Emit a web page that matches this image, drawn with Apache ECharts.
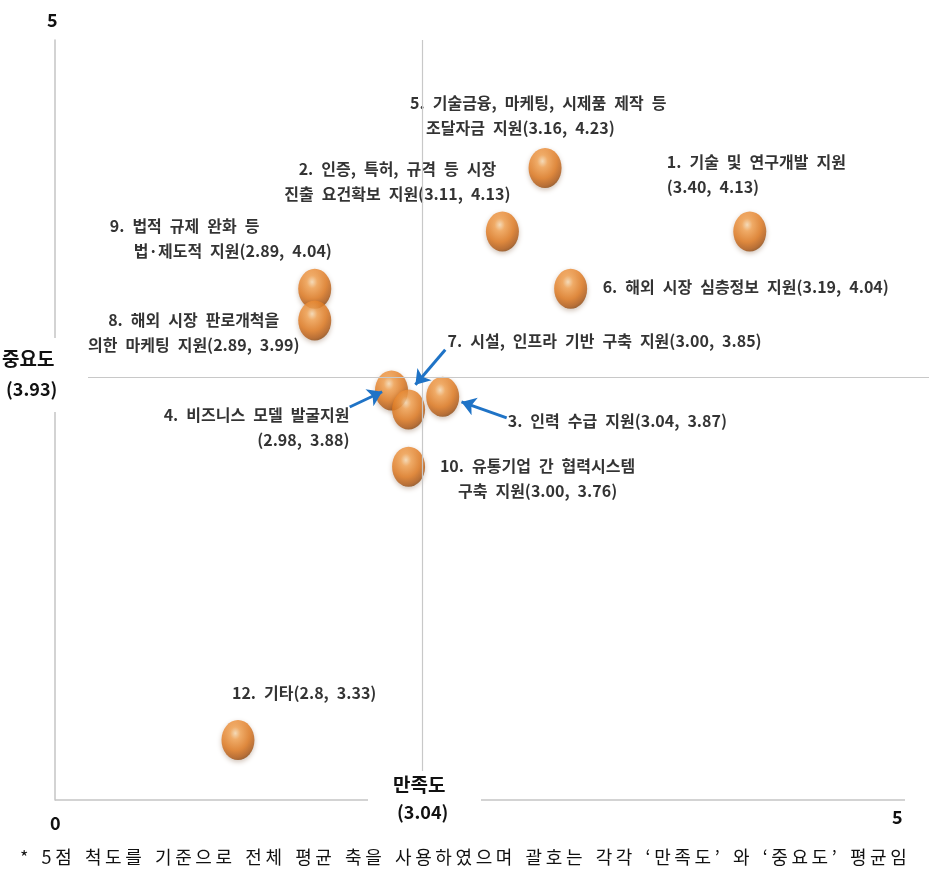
<!DOCTYPE html>
<html>
<head>
<meta charset="utf-8">
<script src="https://cdn.jsdelivr.net/npm/echarts@6/dist/echarts.min.js"></script>
<style>
html,body{margin:0;padding:0;background:#fff;}
#chart{width:929px;height:884px;}
</style>
</head>
<body>
<div id="chart"></div>
<script>
// ---- data ----
// order chosen so overlapping balls stack as in the reference
const itemIds      = ['1', '2', '3', '4', '5', '6', '7', '9', '8', '10', '12'];
const satisfaction = [3.40, 3.11, 3.04, 2.98, 3.16, 3.19, 3.00, 2.89, 2.89, 3.00, 2.80];
const importance   = [4.13, 4.13, 3.87, 3.88, 4.23, 4.04, 3.85, 4.04, 3.99, 3.76, 3.33];
const itemLabels = [
  '1. 기술 및 연구개발 지원\n(3.40, 4.13)',
  '2. 인증, 특허, 규격 등 시장\n진출 요건확보 지원(3.11, 4.13)',
  '3. 인력 수급 지원(3.04, 3.87)',
  '4. 비즈니스 모델 발굴지원\n(2.98, 3.88)',
  '5. 기술금융, 마케팅, 시제품 제작 등\n  조달자금 지원(3.16, 4.23)',
  '6. 해외 시장 심층정보 지원(3.19, 4.04)',
  '7. 시설, 인프라 기반 구축 지원(3.00, 3.85)',
  '9. 법적 규제 완화 등\n   법·제도적 지원(2.89, 4.04)',
  '8. 해외 시장 판로개척을\n의한 마케팅 지원(2.89, 3.99)',
  '10. 유통기업 간 협력시스템\n구축 지원(3.00, 3.76)',
  '12. 기타(2.8, 3.33)'
];
// mean axes as drawn in the picture, and their printed values
const meanLineX = 3.016;
const meanLineY = 3.901;
const meanTextX = '(3.04)';
const meanTextY = '(3.93)';
const axisEndLabels = ['0', '5'];
// arrows [from, to] in data units
const arrowFrom = [[3.043, 3.944], [2.931, 3.854], [3.115, 3.837]];
const arrowTo   = [[3.008, 3.889], [2.969, 3.878], [3.062, 3.862]];
const footnote = '* 5점 척도를 기준으로 전체 평균 축을 사용하였으며 괄호는 각각 ‘만족도’ 와 ‘중요도’ 평균임';

// ---- styles / label placement ----
const labelPlace = [
  {offset: [-83, -57], align: 'left'},
  {offset: [-105, -50], align: 'center'},
  {offset: [65, 24], align: 'left'},
  {offset: [-42, 37], align: 'right'},
  {offset: [-135, -53], align: 'left'},
  {offset: [32, -2], align: 'left'},
  {offset: [39, -69], align: 'left'},
  {offset: [-205, -50], align: 'left'},
  {offset: [-121, 12], align: 'center'},
  {offset: [129, 12], align: 'center'},
  {offset: [-6, -47], align: 'left'}
];

const FONT = '"Noto Sans CJK KR", "Noto Sans", sans-serif';
const wide = s => s.replace(/ /g, '\u2002');
const spaced = s => s.replace(/ /g, '\u2004').split('').join('\u2009');
const XMIN = 2.5855, XMAX = 3.6101, XEND = 3.582;
const YMIN = 3.2357, YMAX = 4.4314;
const ballPath = 'path://M50,0 A50,50 0 1,1 50,100 A50,50 0 1,1 50,0 Z';
const ballColor = new echarts.graphic.RadialGradient(0.42, 0.33, 0.72, [
  {offset: 0, color: '#fde0b8'},
  {offset: 0.22, color: '#f7a553'},
  {offset: 0.6, color: '#e27a1f'},
  {offset: 0.85, color: '#b35b16'},
  {offset: 1, color: '#7a4010'}
]);

const points = satisfaction.map((x, i) => ({
  name: itemIds[i],
  value: [x, importance[i]],
  label: {
    show: true,
    position: 'inside',
    formatter: wide(itemLabels[i]),
    offset: labelPlace[i].offset,
    align: labelPlace[i].align,
    verticalAlign: 'middle'
  }
}));

const arrowData = arrowFrom.map((f, i) => ({coords: [f, arrowTo[i]]}));

const chart = echarts.init(document.getElementById('chart'), null, {renderer: 'canvas'});
chart.setOption({
  backgroundColor: '#fff',
  animation: false,
  grid: {left: 55, right: 0, top: 40, bottom: 84},
  xAxis: {
    type: 'value', min: XMIN, max: XMAX,
    axisLine: {show: false},
    axisTick: {show: false}, axisLabel: {show: false}, splitLine: {show: false}
  },
  yAxis: {
    type: 'value', min: YMIN, max: YMAX,
    axisLine: {show: true, lineStyle: {color: '#c4c4c4', width: 1.5}},
    axisTick: {show: false}, axisLabel: {show: false}, splitLine: {show: false}
  },
  series: [
    {
      type: 'scatter',
      z: 3,
      symbol: ballPath,
      symbolSize: [33, 40],
      itemStyle: {
        color: ballColor,
        shadowBlur: 5, shadowColor: 'rgba(90,40,0,0.35)', shadowOffsetY: 2
      },
      label: {
        color: '#000', fontFamily: FONT, fontWeight: 'bold', fontSize: 16, lineHeight: 25
      },
      data: points,
      markLine: {
        silent: true, symbol: 'none', animation: false,
        label: {show: false},
        lineStyle: {color: '#c8c8c8', width: 1.2, type: 'solid'},
        data: [
          [{coord: [meanLineX, YMAX]}, {coord: [meanLineX, YMIN]}],
          [{coord: [XMIN, meanLineY]}, {coord: [XMAX, meanLineY]}],
          [{coord: [XMIN, YMIN], lineStyle: {color: '#c4c4c4', width: 1.5}}, {coord: [XEND, YMIN]}]
        ]
      }
    },
    {
      type: 'lines',
      coordinateSystem: 'cartesian2d',
      z: 5,
      symbol: ['none', 'arrow'],
      symbolSize: 14,
      lineStyle: {color: '#1f73c6', width: 3, opacity: 1, curveness: 0},
      data: arrowData
    }
  ],
  graphic: [
    {type: 'rect', z: 100, shape: {x: 0, y: 338, width: 88, height: 74}, style: {fill: '#fff'}},
    {type: 'rect', z: 100, shape: {x: 368, y: 771, width: 113, height: 64}, style: {fill: '#fff'}},
    {type: 'text', z: 101, left: 47, top: 11, style: {text: axisEndLabels[1], font: 'bold 18px ' + FONT, fill: '#111'}},
    {type: 'text', z: 101, left: 50, top: 814, style: {text: axisEndLabels[0], font: 'bold 18px ' + FONT, fill: '#111'}},
    {type: 'text', z: 101, left: 892, top: 808, style: {text: axisEndLabels[1], font: 'bold 18px ' + FONT, fill: '#111'}},
    {type: 'text', z: 101, left: 2, top: 349, style: {text: '중요도', font: 'bold 19px ' + FONT, fill: '#111'}},
    {type: 'text', z: 101, left: 6, top: 380, style: {text: meanTextY, font: 'bold 18px ' + FONT, fill: '#111'}},
    {type: 'text', z: 101, left: 393, top: 775, style: {text: '만족도', font: 'bold 19px ' + FONT, fill: '#111'}},
    {type: 'text', z: 101, left: 397, top: 803, style: {text: meanTextX, font: 'bold 18px ' + FONT, fill: '#111'}},
    {type: 'text', z: 101, left: 20, top: 848, style: {text: spaced(footnote), font: '18px ' + FONT, fill: '#111'}}
  ]
});
</script>
</body>
</html>
